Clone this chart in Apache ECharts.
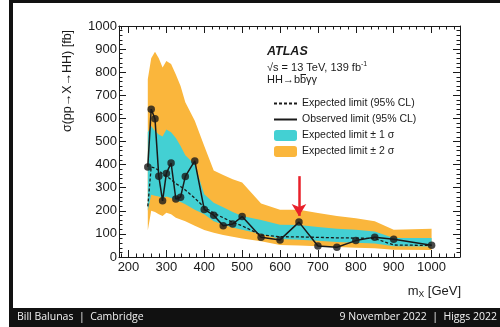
<!DOCTYPE html>
<html>
<head>
<meta charset="utf-8">
<script src="https://cdn.jsdelivr.net/npm/echarts@6/dist/echarts.min.js"></script>
<style>
html, body {margin:0; padding:0; background:#fff;}
#chart {width:500px; height:327px;}
</style>
</head>
<body>
<div id="chart"></div>
<script>
// mass points [GeV]
const masses   = [251, 260, 270, 280, 290, 300, 312.5, 325, 337.5, 350, 375, 400, 425, 450, 475, 500, 550, 600, 650, 700, 750, 800, 850, 900, 1000];
// limits [fb]
const observed = [390, 640, 598, 350, 243, 362, 407, 251, 259, 349, 416, 206, 181, 135, 143, 175, 85, 74, 151, 48, 42, 71, 86, 77, 51];
const expected = [219, 390, 385, 375, 360, 350, 335, 318, 305, 290, 255, 215, 190, 170, 150, 135, 95, 88, 87, 85, 83, 82, 80, 52, 50];
const band1Lo  = [200, 270, 265, 262, 255, 262, 255, 245, 238, 228, 205, 185, 155, 140, 128, 118, 100, 78, 75, 70, 65, 62, 58, 47, 45];
const band1Hi  = [540, 567, 545, 530, 522, 552, 540, 515, 480, 440, 400, 272, 235, 215, 195, 178, 160, 140, 139, 130, 122, 118, 110, 82, 82];
const band2Lo  = [115, 200, 195, 185, 178, 192, 185, 170, 162, 155, 135, 117, 105, 95, 88, 80, 68, 52, 50, 46, 43, 40, 38, 31, 30];
const band2Hi  = [770, 860, 888, 860, 820, 848, 835, 790, 740, 670, 590, 480, 375, 355, 337, 322, 232, 205, 205, 190, 178, 168, 155, 118, 122];

const xTickLabels = [200, 300, 400, 500, 600, 700, 800, 900, 1000];
const arrowFrom = [650, 350];
const arrowTo = [650, 178];

const xMinorTicks = [];
for (let v = 180; v <= 1060; v += 20) xMinorTicks.push(v);

const ORANGE = '#fab63c';
const CYAN = '#43d0d3';
const INK = '#1a1a1a';
const FONT = '"Liberation Sans", Arial, sans-serif';

function bandSeries(name, lo, hi, color) {
    return {
        type: 'custom',
        name: name,
        silent: true,
        xAxisIndex: 0, yAxisIndex: 0,
        itemStyle: {color: color},
        data: masses.map((m, i) => [m, lo[i], hi[i]]),
        encode: {x: 0, y: [1, 2]},
        renderItem: (params, api) => {
            if (params.dataIndex !== 0) return null;
            let pts = [];
            for (let i = 0; i < masses.length; i++) pts.push(api.coord([masses[i], hi[i]]));
            for (let i = masses.length - 1; i >= 0; i--) pts.push(api.coord([masses[i], lo[i]]));
            return {type: 'polygon', shape: {points: pts}, style: {fill: color}};
        }
    };
}

function xAxisDef(position, ticks, len, labels) {
    return {
        type: 'value', min: 175, max: 1075, position: position,
        axisLine: {show: !!labels || position === 'top', lineStyle: {color: INK, width: 1}},
        axisTick: {inside: true, length: len, customValues: ticks, lineStyle: {color: INK, width: 1}},
        axisLabel: labels ? {customValues: labels, margin: 4, fontSize: 13, color: INK, fontFamily: FONT, formatter: v => String(v)} : {show: false},
        splitLine: {show: false}
    };
}
function yAxisDef(position, labels) {
    return {
        type: 'value', min: 0, max: 1000, interval: 100, position: position,
        axisLine: {show: true, lineStyle: {color: INK, width: 1}},
        axisTick: {inside: true, length: 7, lineStyle: {color: INK, width: 1}},
        minorTick: {show: true, splitNumber: 5, length: 3.5, lineStyle: {color: INK, width: 1}},
        axisLabel: labels ? {margin: 2, fontSize: 13, color: INK, fontFamily: FONT, formatter: v => String(v)} : {show: false},
        splitLine: {show: false}
    };
}

// line entries in the legend: line only, no marker
const noMarker = {color: 'rgba(0,0,0,0)', borderWidth: 0};

const chart = echarts.init(document.getElementById('chart'));
chart.setOption({
    animation: false,
    backgroundColor: '#fff',
    grid: {left: 119, top: 26, width: 341, height: 231},
    xAxis: [
        xAxisDef('bottom', xTickLabels, 7, xTickLabels),
        xAxisDef('bottom', xMinorTicks, 3.5, false),
        xAxisDef('top', xTickLabels, 7, false),
        xAxisDef('top', xMinorTicks, 3.5, false)
    ],
    yAxis: [yAxisDef('left', true), yAxisDef('right', false)],
    legend: {
        orient: 'vertical', left: 268, top: 93,
        itemWidth: 23, itemHeight: 11, itemGap: 5,
        selectedMode: false,
        textStyle: {fontSize: 10.5, color: INK, fontFamily: FONT},
        data: [
            {name: 'Expected limit (95% CL)', itemStyle: noMarker},
            {name: 'Observed limit (95% CL)', itemStyle: noMarker},
            'Expected limit ± 1 σ',
            'Expected limit ± 2 σ'
        ]
    },
    series: [
        bandSeries('Expected limit ± 2 σ', band2Lo, band2Hi, ORANGE),
        bandSeries('Expected limit ± 1 σ', band1Lo, band1Hi, CYAN),
        {
            type: 'line', name: 'Expected limit (95% CL)', silent: true,
            data: masses.map((m, i) => [m, expected[i]]),
            symbol: 'none',
            lineStyle: {color: INK, width: 1.3, type: [3, 2]},
            itemStyle: {color: INK}
        },
        {
            type: 'line', name: 'Observed limit (95% CL)', silent: true,
            data: masses.map((m, i) => [m, observed[i]]),
            symbol: 'none',
            lineStyle: {color: INK, width: 1.5},
            itemStyle: {color: INK},
            markLine: {
                silent: true,
                symbol: ['none', 'arrow'], symbolSize: [11, 12],
                label: {show: false},
                lineStyle: {color: '#e8202a', width: 2.5, type: 'solid'},
                data: [[{coord: arrowFrom}, {coord: arrowTo}]]
            }
        },
        {
            type: 'scatter', name: 'obs points', silent: true,
            data: masses.map((m, i) => [m, observed[i]]),
            symbol: 'circle', symbolSize: 7.5,
            itemStyle: {color: INK}
        }
    ],
    graphic: [
        {type: 'rect', left: 9, top: 0, shape: {width: 491, height: 3}, style: {fill: '#111'}},
        {type: 'rect', left: 9, top: 0, shape: {width: 4, height: 327}, style: {fill: '#111'}},
        {type: 'rect', left: 9, top: 308, shape: {width: 491, height: 19}, style: {fill: '#111'}},
        {type: 'text', left: 17, top: 312, style: {text: 'Bill Balunas  |  Cambridge', fill: '#f2f2f2', font: '10.5px "Open Sans", sans-serif'}},
        {type: 'text', right: 3, top: 312, style: {text: '9 November 2022  |  Higgs 2022', fill: '#f2f2f2', font: '10.5px "Open Sans", sans-serif'}},
        {type: 'text', left: 267, top: 45, style: {text: 'ATLAS', fill: INK, font: 'italic bold 12.5px ' + FONT}},
        {type: 'text', left: 267, top: 61, style: {
            text: '{a|√s = 13 TeV, 139 fb}{s|-1}',
            rich: {a: {fontSize: 11, fontFamily: FONT, fill: INK}, s: {fontSize: 7, fontFamily: FONT, fill: INK, padding: [0, 0, 6, 0]}}
        }},
        {type: 'text', left: 267, top: 74, style: {text: 'HH→bbγγ', fill: INK, font: '11px ' + FONT}},
        // bar over the second b
        {type: 'line', shape: {x1: 300.5, y1: 74.5, x2: 306, y2: 74.5}, style: {stroke: INK, lineWidth: 1}},
        {type: 'text', x: 68, y: 81, rotation: Math.PI / 2, style: {
            text: 'σ(pp→X→HH) [fb]', fill: INK, font: '12.5px ' + FONT, align: 'center', verticalAlign: 'middle'
        }},
        {type: 'text', right: 39, top: 285, style: {
            text: '{a|m}{b|X}{a| [GeV]}',
            rich: {a: {fontSize: 13, fontFamily: FONT, fill: INK}, b: {fontSize: 8.5, fontFamily: FONT, fill: INK, padding: [6, 0, 0, 0]}}
        }}
    ]
});
</script>
</body>
</html>
